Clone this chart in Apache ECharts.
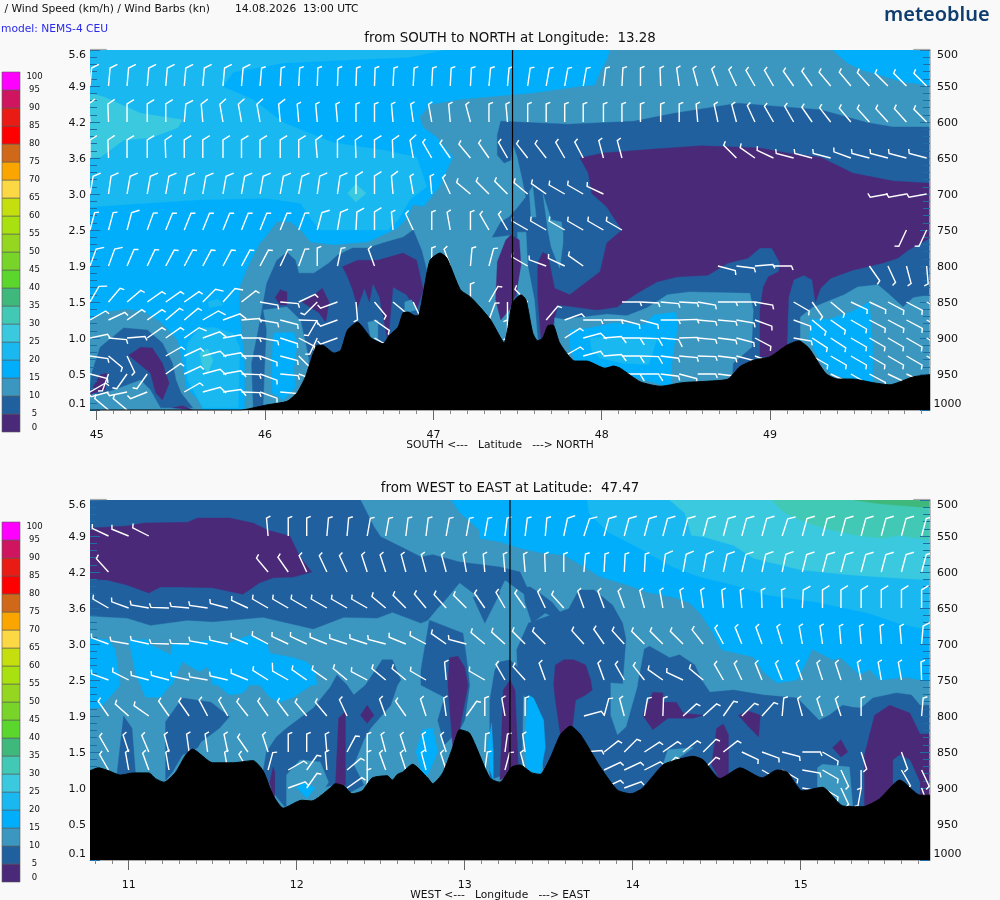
<!DOCTYPE html>
<html><head><meta charset="utf-8">
<style>html,body{margin:0;padding:0;background:#f9f9f9}#c{width:1000px;height:900px}</style>
<script src="https://cdn.jsdelivr.net/npm/echarts@6/dist/echarts.min.js"></script>
</head><body><div id="c"></div>
<script>
const _ = null;
const speedLevels = [0,5,10,15,20,25,30,35,40,45,50,55,60,65,70,75,80,85,90,95];
const speedColors = ['#4a2a78','#20609f','#3b97bf','#00aefb','#1ab8f0','#3bc9e0','#42c9b5','#3fb87c','#5ad62d','#78d428','#95d720','#a8e010','#c4df0d','#fdd845','#fba500','#d0681a','#ff0000','#ea1a14','#d01560','#ff00ff'];
const pressureTicks = [500,550,600,650,700,750,800,850,900,950,1000];
const heightLabels = ['5.6','4.9','4.2','3.6','3.0','2.5','1.9','1.5','1.0','0.5','0.1'];
const northMajorTicks = [45,46,47,48,49];
const southMajorTicks = [11,12,13,14,15];
const northMinorTicks = [45.1,45.2,45.3,45.4,45.5,45.6,45.7,45.8,45.9,46.1,46.2,46.3,46.4,46.5,46.6,46.7,46.8,46.9,47.1,47.2,47.3,47.4,47.5,47.6,47.7,47.8,47.9,48.1,48.2,48.3,48.4,48.5,48.6,48.7,48.8,48.9,49.1,49.2,49.3,49.4,49.5,49.6,49.7,49.8,49.9];
const southMinorTicks = [10.8,10.9,11.1,11.2,11.3,11.4,11.5,11.6,11.7,11.8,11.9,12.1,12.2,12.3,12.4,12.5,12.6,12.7,12.8,12.9,13.1,13.2,13.3,13.4,13.5,13.6,13.7,13.8,13.9,14.1,14.2,14.3,14.4,14.5,14.6,14.7,14.8,14.9,15.1,15.2,15.3,15.4,15.5,15.6,15.7];

// terrain top: flat list of lat/lon, pressure
const northTerrain = [44.96,1000,45.85,1000,45.89,999,46.01,993,46.13,988,46.19,976,46.24,954,46.27,933,46.31,910,46.34,910,46.41,921,46.45,917,46.49,889,46.55,878,46.58,885,46.63,900,46.70,908,46.74,896,46.79,885,46.82,865,46.85,864,46.89,869,46.91,869,46.94,838,46.98,792,47.04,782,47.08,789,47.16,833,47.22,843,47.28,858,47.34,875,47.40,900,47.42,907,47.44,889,47.47,851,47.52,840,47.55,847,47.59,893,47.62,904,47.65,900,47.68,883,47.71,882,47.75,907,47.84,932,47.91,932,48.02,942,48.07,939,48.11,942,48.23,961,48.35,967,48.48,962,48.63,960,48.75,957,48.82,940,48.90,931,49.00,926,49.10,910,49.17,904,49.23,914,49.33,949,49.40,957,49.49,957,49.61,962,49.71,965,49.85,954,49.95,951];
const southTerrain = [10.77,876,10.82,872,10.88,876,10.95,882,11.03,879,11.12,879,11.16,887,11.21,892,11.28,878,11.34,854,11.38,846,11.50,865,11.62,865,11.74,862,11.80,876,11.86,910,11.92,928,12.03,917,12.09,918,12.20,900,12.23,894,12.28,897,12.33,908,12.39,904,12.45,886,12.54,883,12.57,889,12.60,881,12.63,878,12.69,867,12.78,886,12.81,894,12.87,879,12.93,843,12.97,819,13.03,824,13.15,886,13.21,892,13.28,871,13.33,868,13.40,879,13.45,881,13.51,858,13.57,826,13.63,814,13.69,826,13.81,872,13.91,903,13.99,908,14.06,900,14.18,868,14.26,861,14.36,856,14.42,861,14.52,887,14.64,872,14.77,886,14.86,875,14.92,878,15.01,904,15.13,899,15.25,925,15.37,926,15.47,915,15.59,889,15.71,910,15.77,910];

// filled speed bands, painted in order: [lower speed, flat outline of lat, pressure]
const northBands = [
[15,[44.96,500,49.95,500,49.95,1000,44.96,1000]],
[20,[44.96,500,47.06,500,46.86,510,46.49,514,46.11,518,45.81,531,45.75,551,45.93,569,46.11,601,46.41,629,46.70,639,46.90,649,46.92,662,46.96,690,46.86,708,46.79,736,46.73,750,46.33,750,46.29,740,46.21,713,46.01,706,45.61,708,45.22,714,44.96,718]],
[25,[44.96,560,45.04,565,45.26,588,45.51,597,45.48,608,45.32,622,45.16,625,45.08,639,45.02,649,44.96,650]],
[25,[46.49,699,46.54,686,46.60,699,46.54,711]],
[10,[48.05,500,49.95,500,49.95,1000,45.88,1000,45.88,935,45.85,865,45.85,829,45.89,806,45.97,768,45.99,764,46.07,739,46.15,739,46.21,750,46.27,767,46.41,771,46.61,767,46.73,754,46.79,747,46.85,732,46.88,715,46.94,718,47.04,690,47.08,667,47.12,649,47.02,621,46.94,607,46.92,593,46.98,576,47.16,569,47.40,564,47.59,560,47.87,551,47.96,549,47.99,531,48.03,514]],
[15,[49.37,500,49.46,518,49.55,528,49.66,535,49.78,544,49.95,549,49.95,500]],
[5,[47.40,599,47.80,603,48.19,599,48.43,588,48.67,579,48.81,574,49.08,579,49.30,583,49.58,601,49.73,607,49.95,607,49.95,1000,47.49,1000,47.49,847,47.46,757,47.35,760,47.40,739,47.45,732,47.50,719,47.55,704,47.53,681,47.50,649,47.47,629,47.46,653,47.42,657,47.38,646,47.38,618]],
[10,[47.57,697,47.59,689,47.61,732,47.58,732]],
[10,[47.65,699,47.70,736,47.76,739,47.77,754,47.77,768,47.75,803,47.70,774,47.68,750]],
[10,[47.50,753,47.55,753,47.56,799,47.60,847,47.62,903,47.59,903,47.55,875,47.50,847,47.50,799]],
[0,[47.38,794,47.43,764,47.46,757,47.51,764,47.52,799,47.49,840,47.45,861,47.40,875,47.37,847]],
[0,[47.87,650,48.01,643,48.29,638,48.59,633,48.94,636,49.10,643,49.30,649,49.49,671,49.73,682,49.95,685,49.95,761,49.82,778,49.76,789,49.67,796,49.49,806,49.36,817,49.30,831,49.27,850,49.25,819,49.20,813,49.14,819,49.11,843,49.10,910,49.02,926,48.94,926,48.94,861,48.96,829,48.99,815,49.05,808,49.06,796,49.01,775,48.94,775,48.87,789,48.75,796,48.63,813,48.45,815,48.33,822,48.21,838,48.09,857,47.97,861,47.81,856,47.74,854,47.71,882,47.64,903,47.62,843,47.62,796,47.65,781,47.68,785,47.72,831,47.81,840,47.99,808,48.03,768,48.12,750,48.08,736,48.03,718,47.94,699,47.92,671]],
[10,[47.72,872,47.77,874,47.89,871,48.03,867,48.15,869,48.27,858,48.39,840,48.52,836,48.88,838,48.90,861,48.89,913,48.78,935,48.76,1000,47.72,1000]],
[15,[47.81,889,47.93,886,48.07,879,48.25,882,48.31,868,48.44,864,48.45,885,48.42,926,48.41,968,48.19,954,47.97,940,47.84,932,47.81,913]],
[20,[47.99,899,48.33,900,48.28,937,48.13,935,47.99,928,47.94,917,47.93,900]],
[10,[49.18,871,49.25,858,49.44,840,49.52,829,49.64,826,49.70,838,49.79,857,49.85,844,49.95,840,49.95,1000,49.18,1000]],
[15,[49.24,874,49.35,874,49.48,864,49.59,850,49.61,913,49.61,963,49.46,957,49.36,949,49.27,921,49.23,899]],
[10,[44.96,875,45.06,864,45.18,860,45.28,864,45.38,878,45.48,903,45.51,935,45.53,968,45.60,986,45.63,1000,44.96,1000]],
[5,[44.97,949,45.02,913,45.16,886,45.30,889,45.39,907,45.45,935,45.47,958,45.50,976,45.57,997,45.38,997,45.32,972,45.26,958,45.10,972,45.00,979,44.96,972]],
[0,[45.19,924,45.26,913,45.33,914,45.39,935,45.43,963,45.39,986,45.35,976,45.32,949]],
[0,[44.97,972,45.02,951,45.06,949,45.05,972,44.99,976,44.96,979]],
[0,[45.45,997,45.51,994,45.57,1000]],
[20,[45.54,907,45.61,886,45.69,885,45.81,893,45.85,913,45.84,997,45.63,997,45.54,958,45.53,926]],
[25,[45.61,921,45.66,915,45.69,931,45.66,949,45.63,940]],
[20,[45.66,850,45.72,846,45.75,854,45.67,858]],
[5,[45.93,997,45.92,935,45.96,889,46.01,824,46.07,792,46.13,781,46.18,792,46.20,810,46.29,810,46.38,796,46.43,785,46.52,775,46.61,775,46.70,768,46.82,760,46.88,750,46.93,778,46.96,806,46.98,875,46.98,1000,45.93,1000]],
[10,[45.99,861,46.13,857,46.21,875,46.24,907,46.26,931,46.25,954,46.19,976,46.11,997,45.99,997,46.00,935,46.01,889]],
[15,[46.05,893,46.17,892,46.19,907,46.17,944,46.18,968,46.11,986,46.04,976,46.04,935]],
[0,[46.09,833,46.13,836,46.13,854,46.09,854,46.06,844]],
[0,[46.27,844,46.34,831,46.38,850,46.36,878,46.32,865,46.22,850]],
[0,[46.46,801,46.55,792,46.67,792,46.82,782,46.90,792,46.94,833,46.90,861,46.84,840,46.76,829,46.73,906,46.68,843,46.64,824,46.62,850,46.59,831,46.55,857,46.52,833,46.49,815]],
[10,[46.61,878,46.67,875,46.67,903,46.63,903]],
[10,[46.83,850,46.87,847,46.90,861,46.83,865]]
];
const southBands = [
[10,[10.77,500,15.77,500,15.77,1000,10.77,1000]],
[15,[12.92,500,12.97,517,13.09,542,13.09,553,13.21,558,13.33,567,13.47,574,13.59,576,13.69,590,13.81,607,13.97,618,14.09,628,14.26,636,14.34,643,14.40,657,14.48,685,14.53,708,14.72,718,14.78,739,14.86,754,14.98,750,15.07,707,15.19,722,15.24,719,15.35,743,15.41,735,15.47,750,15.63,746,15.77,753,15.77,500]],
[20,[13.73,500,13.74,518,13.85,544,14.04,567,14.24,593,14.40,607,14.60,618,14.80,632,15.10,642,15.40,657,15.59,672,15.77,681,15.77,500]],
[25,[14.22,500,14.31,518,14.35,549,14.42,551,14.60,563,14.72,581,14.84,588,15.00,597,15.30,604,15.55,608,15.77,611,15.77,500]],
[30,[14.83,500,14.90,517,15.04,532,15.19,542,15.35,550,15.49,553,15.59,549,15.77,556,15.77,500]],
[35,[15.32,500,15.46,505,15.77,511,15.77,500]],
[15,[10.77,692,10.88,694,10.92,708,10.94,740,10.95,757,10.83,789,10.77,789]],
[15,[11.00,694,11.11,694,11.13,701,11.25,715,11.26,701,11.50,694,11.59,699,11.72,688,11.82,699,11.84,713,11.98,719,12.06,725,12.11,736,12.12,757,12.09,757,11.98,774,11.90,781,11.84,774,11.78,757,11.72,757,11.68,768,11.60,771,11.53,757,11.25,757,11.19,774,11.10,774,11.07,757,11.04,739]],
[10,[11.32,725,11.42,739,11.47,732,11.50,757,11.26,757]],
[5,[10.77,500,12.38,500,12.46,537,12.50,551,12.62,565,12.74,579,12.81,576,12.97,586,13.21,593,13.33,600,13.37,621,13.38,635,13.24,611,13.21,625,13.17,643,13.05,629,12.97,615,12.87,643,12.84,650,12.78,667,12.74,671,12.57,656,12.48,664,12.28,663,12.10,679,11.80,663,11.50,669,11.35,667,11.13,674,10.99,664,10.77,661]],
[0,[10.77,539,10.91,537,10.99,536,11.09,532,11.35,531,11.41,525,11.60,525,11.74,532,11.83,542,11.96,550,12.02,579,12.09,600,11.98,607,11.86,608,11.78,615,11.68,631,11.50,622,11.31,621,11.19,621,11.12,629,10.99,618,10.87,611,10.77,610]],
[5,[12.79,667,12.99,685,13.01,718,13.03,757,13.00,806,12.97,819,12.88,840,12.84,806,12.88,774,12.74,757,12.74,736]],
[5,[13.05,635,13.12,671,13.21,629]],
[5,[13.35,621,13.36,642,13.40,671,13.48,657,13.53,663,13.57,678,13.62,671,13.52,642,13.44,628,13.39,621]],
[5,[13.62,651,13.68,625,13.77,625,13.88,646,13.94,671,13.96,693,13.94,754,13.98,765,14.03,757,14.07,707,14.10,703,14.22,719,14.28,715,14.37,729,14.41,750,14.46,767,14.60,764,14.78,771,14.98,775,15.11,806,15.17,799,15.25,785,15.31,788,15.36,789,15.43,775,15.57,768,15.66,771,15.71,785,15.77,785,15.77,1000,13.51,1000,13.45,818,13.38,778,13.32,764,13.31,708,13.38,671]],
[10,[13.87,754,13.87,799,13.91,826,13.96,815,14.03,757]],
[5,[13.15,778,13.18,736,13.21,725,13.27,722,13.33,736,13.35,754,13.34,872,13.15,889]],
[0,[13.23,764,13.27,750,13.30,764,13.32,875,13.21,889]],
[0,[13.59,722,13.65,722,13.72,729,13.75,750,13.76,764,13.72,771,13.66,778,13.64,819,13.57,826,13.54,778,13.53,757,13.54,729]],
[15,[13.38,771,13.41,775,13.47,806,13.48,844,13.45,881,13.37,875,13.36,826]],
[0,[12.90,757,12.91,719,12.96,717,13.00,732,13.02,757,12.96,831,12.93,844]],
[5,[10.93,882,10.97,800,11.02,817,11.04,878]],
[5,[11.22,889,11.22,808,11.32,775,11.49,781,11.60,801,11.54,817,11.43,836,11.41,844,11.32,854,11.26,878]],
[5,[11.80,878,11.82,850,11.88,829,11.94,817,12.10,789,12.20,760,12.24,743,12.30,757,12.34,771,12.41,757,12.51,722,12.57,722,12.62,750,12.60,757,12.56,785,12.44,817,12.40,833,12.34,868,12.40,896,12.32,906,12.22,896,12.08,903,12.02,924,11.93,926,11.88,912]],
[10,[11.94,882,12.02,861,12.14,864,12.19,892,12.14,910,12.10,917,11.94,926]],
[15,[12.00,900,12.04,892,12.11,900,12.06,914]],
[0,[12.23,900,12.25,803,12.29,794,12.29,896]],
[0,[12.38,799,12.42,785,12.46,799,12.42,810]],
[0,[11.84,892,11.86,871,11.87,878,11.87,910,11.86,914]],
[15,[12.71,850,12.75,819,12.81,817,12.84,850,12.78,882,12.75,882]],
[15,[13.14,840,13.16,810,13.17,850,13.17,889,13.15,875]],
[0,[14.06,799,14.12,767,14.18,768,14.18,781,14.26,781,14.30,796,14.42,799,14.36,803,14.28,803,14.21,803,14.12,819]],
[0,[14.63,799,14.69,793,14.76,799,14.75,829,14.69,815]],
[0,[14.50,817,14.54,811,14.57,826,14.57,882,14.52,889,14.47,868]],
[0,[15.19,844,15.24,833,15.28,850,15.24,857]],
[0,[15.38,854,15.44,799,15.53,785,15.65,796,15.71,825,15.77,825,15.77,910,15.71,910,15.59,889,15.47,924,15.38,926]],
[5,[15.55,861,15.59,854,15.65,861,15.71,892,15.71,910,15.59,889,15.55,896]],
[10,[14.18,868,14.21,847,14.36,844,14.30,854,14.16,878]],
[10,[15.10,872,15.13,867,15.29,871,15.31,926,15.25,924,15.16,907,15.10,899]]
];

// wind barbs
const barbLevels = [550,600,650,700,750,800,850,875,900,925,950,975,1000];
const northBarbLats = [44.96,45.07,45.18,45.30,45.41,45.52,45.63,45.75,45.86,45.97,46.09,46.20,46.31,46.43,46.54,46.65,46.76,46.88,46.99,47.10,47.22,47.33,47.44,47.56,47.67,47.78,47.89,48.01,48.12,48.23,48.35,48.46,48.57,48.69,48.80,48.91,49.02,49.14,49.25,49.36,49.48,49.59,49.70,49.81,49.93];
const southBarbLons = [10.88,11.00,11.12,11.24,11.36,11.47,11.59,11.71,11.83,11.95,12.06,12.18,12.30,12.42,12.53,12.65,12.77,12.89,13.01,13.12,13.24,13.36,13.48,13.59,13.71,13.83,13.95,14.07,14.18,14.30,14.42,14.54,14.65,14.77,14.89,15.01,15.13,15.24,15.36,15.48,15.60,15.72];
const northBarbDirs = [
[5,5,5,5,5,5,5,5,5,5,3,3,2,2,2,2,3,3,3,3,3,5,5,8,10,10,10,7,3,0,358,352,345,340,335,330,330,325,325,320,320,318,315,315,315],
[355,358,0,0,0,5,355,350,350,350,355,355,355,355,0,0,355,352,350,355,345,0,355,0,0,0,0,0,0,0,0,0,355,348,345,335,330,330,325,322,320,318,318,318,315],
[0,358,0,0,358,0,0,0,0,0,0,0,355,0,358,0,358,350,330,325,320,325,330,322,322,330,332,345,345,_,_,_,_,_,315,305,295,285,285,285,290,285,285,285,285],
[10,8,10,10,10,10,10,10,10,10,10,10,8,8,0,0,355,350,355,335,310,315,315,310,305,300,300,295,_,_,_,_,_,_,_,_,_,_,_,_,_,_,260,260,260],
[15,15,15,20,22,22,22,22,22,22,22,20,15,10,3,0,355,335,0,350,0,330,330,300,300,300,300,300,300,_,_,_,_,_,_,_,_,_,_,_,_,_,_,205,205],
[20,20,23,25,28,28,28,28,28,28,25,20,0,12,_,340,_,_,0,340,5,15,_,300,290,295,305,_,_,_,_,_,_,105,97,85,90,_,_,_,_,145,155,165,175],
[30,40,50,55,55,55,45,42,52,100,95,65,225,250,175,140,130,155,_,_,0,30,180,315,_,_,_,_,90,93,95,93,100,90,90,100,_,120,145,130,115,115,118,118,118],
[60,65,55,55,50,50,60,70,85,100,105,92,210,250,_,125,_,_,_,_,_,20,180,_,40,70,90,90,105,105,90,88,95,95,100,110,_,110,130,125,120,118,118,118,118],
[78,95,85,55,55,55,70,80,90,100,108,118,205,250,_,120,_,_,_,_,_,_,_,_,_,58,75,85,90,92,95,88,95,97,105,118,_,100,123,123,120,120,120,120,120],
[98,130,155,_,60,65,75,80,90,110,105,135,_,_,_,_,_,_,_,_,_,_,_,_,_,60,75,85,90,92,97,95,92,97,105,110,_,_,120,120,120,120,120,120,120],
[105,200,215,215,55,65,75,80,92,110,95,110,_,_,_,_,_,_,_,_,_,_,_,_,_,_,_,_,90,90,97,105,90,97,_,_,_,_,_,115,120,118,115,115,_],
[60,255,258,248,_,60,75,82,92,110,95],
[_,310,310]
];
// barbs read as a long feather (10 kn), by column index, per level
const northLongBarbs = [
[0,1,2,3,4,5,6,7,8],
[0,1,2,3,4,5,6,7,8,9,10],
[0,1,2,3,4,5,6,7,8,9,10,11,12,13,14,15,16,17],
[0,1,2,3,4,5,6,7,8,9,10,11,12,13,14,15,16],
[2,12,13,14,15],
[0,1],
[0,6,7],
[6,7],
[5,6,26,27,28,29,30],
[6,7,27,28,29],
[6,7,28,29],
[6,7],
[]
];
const southBarbDirs = [
[295,292,297,_,_,_,_,_,355,0,0,5,5,10,10,7,7,10,10,10,7,7,5,12,18,15,15,15,15,15,15,15,15,15,18,15,15,15,15,15,15,15],
[318,_,_,_,_,_,_,_,320,325,335,335,335,342,342,345,345,345,350,355,355,355,358,0,5,3,3,3,8,10,10,12,13,12,12,14,15,15,15,15,15,15],
[300,290,280,272,275,278,285,295,300,300,300,300,300,300,310,315,320,318,315,325,330,325,335,318,340,340,340,345,350,350,352,355,355,358,358,3,0,0,0,0,0,0],
[290,280,282,272,272,280,282,292,298,295,295,292,288,288,285,292,298,305,285,310,312,315,315,_,318,325,318,315,315,315,322,332,338,340,343,350,352,355,355,356,355,5],
[290,297,285,285,282,280,283,292,302,300,305,305,310,298,310,310,300,355,_,300,330,318,340,_,_,340,330,322,305,295,310,330,335,338,338,340,342,342,348,350,350,358],
[325,312,305,325,325,332,330,322,325,323,320,320,335,_,340,325,342,352,35,0,350,0,_,_,75,15,345,10,2,48,48,35,45,42,5,345,342,342,0,_,_,5],
[330,342,337,345,352,352,348,325,342,0,0,355,28,0,345,342,348,342,_,3,8,352,_,_,85,52,45,57,55,52,45,52,115,110,105,90,120,_,162,_,160,_],
[330,350,340,350,_,_,350,330,15,60,35,355,50,0,340,342,345,342,_,8,15,345,_,_,_,65,65,63,45,_,45,_,_,120,120,100,120,155,180,_,150,155],
[_,_,_,_,_,_,_,_,_,70,35,_,55,0,_,_,_,_,_,_,_,_,_,_,_,65,70,60,_,_,_,_,_,_,_,100,120,155,190,_,_,160]
];
const southLongBarbs = [
[23,24,25,26,27,28,29,30,31,32,33,34,35,36,37,38,39,40,41],
[28,29,30,31,32,33,34,35,36,37,38,39,40,41],
[35,36,37,38,39,40,41],
[41],
[9],
[],[],[],[]
];

const panelXRange = {north:[44.96,49.95], south:[10.77,15.77]};
const crossLine = {north:47.47, south:13.27};
const northTopStubs = [[44.96,45.06],[49.85,49.95]];
const southTopStubs = [[10.77,10.87],[15.67,15.77]];

function colorOf(speed){return speedColors[speedLevels.indexOf(speed)];}
function pairs(flat){const r=[];for(let i=0;i<flat.length;i+=2)r.push([flat[i],flat[i+1]]);return r;}

function bandSeries(bands,xi,yi,xMin){
  return {type:'custom',xAxisIndex:xi,yAxisIndex:yi,z:1,clip:true,silent:true,
    data:bands.map(()=>[xMin,500]),
    renderItem:(p,api)=>{
      const b=bands[p.dataIndex];
      const pts=pairs(b[1]).map(q=>api.coord(q));
      const c=colorOf(b[0]);
      return {type:'polygon',shape:{points:pts},style:{fill:c,stroke:c,lineWidth:0.4}};
    }};
}
function barbData(xs,dirs,longs){
  const out=[];
  dirs.forEach((row,r)=>{row.forEach((d,c)=>{
    if(d===null||d===undefined)return;
    out.push([xs[c],barbLevels[r],d,longs[r].includes(c)?10:5]);
  });});
  return out;
}
function barbSeries(xs,dirs,longs,xi,yi){
  return {type:'custom',xAxisIndex:xi,yAxisIndex:yi,z:3,clip:true,silent:true,
    data:barbData(xs,dirs,longs),
    renderItem:(p,api)=>{
      const base=api.coord([api.value(0),api.value(1)]);
      const dir=api.value(2)*Math.PI/180, kn=api.value(3);
      const L=18, fl=kn>=10?8.2:4.4, fa=(api.value(2)+(kn>=10?58:68))*Math.PI/180;
      const tip=[base[0]+L*Math.sin(dir),base[1]-L*Math.cos(dir)];
      const end=[tip[0]+fl*Math.sin(fa),tip[1]-fl*Math.cos(fa)];
      return {type:'polyline',shape:{points:[base,tip,end]},style:{stroke:'#ffffff',lineWidth:1.4,fill:null,lineJoin:'miter'}};
    }};
}
function terrainSeries(t,xi,yi){
  return {type:'line',xAxisIndex:xi,yAxisIndex:yi,z:4,silent:true,symbol:'none',smooth:0.2,
    data:pairs(t),lineStyle:{color:'#000',width:1},itemStyle:{color:'#000'},areaStyle:{color:'#000',opacity:1,origin:'end'}};
}
function crossSeries(v,xi,yi){
  return {type:'line',xAxisIndex:xi,yAxisIndex:yi,z:5,silent:true,symbol:'none',
    data:[[v,500],[v,1000]],lineStyle:{color:'#000',width:1.2}};
}
function stubSeries(range,xi,yi){
  return {type:'line',xAxisIndex:xi,yAxisIndex:yi,z:6,silent:true,symbol:'none',clip:false,
    data:[[range[0],499.3],[range[1],499.3]],lineStyle:{color:'#aaa',width:1.2}};
}
function legendSeries(xi,yi){
  return {type:'custom',xAxisIndex:xi,yAxisIndex:yi,z:1,silent:true,
    data:speedLevels.map((s,i)=>[0,s,i]),
    renderItem:(p,api)=>{
      const s=api.value(1);
      const a=api.coord([0,s+5]), b=api.coord([1,s]);
      return {type:'rect',shape:{x:a[0],y:a[1],width:b[0]-a[0],height:b[1]-a[1]},
        style:{fill:speedColors[api.value(2)],stroke:'rgba(90,90,90,0.75)',lineWidth:0.8}};
    }};
}
const labelFont={fontFamily:'DejaVu Sans',color:'#111'};
// inner labels sit slightly below their tick; the end labels stay flush
const yLabelRich={
  m:{fontSize:11,fontFamily:'DejaVu Sans',color:'#111',padding:[3,0,0,0]},
  e:{fontSize:11,fontFamily:'DejaVu Sans',color:'#111'}
};
function yToken(v,s){return (v===500||v===1000)?`{e|${s}}`:`{m|${s}}`;}
function xAxes(gi,range,major,minor){
  return [
    {type:'value',gridIndex:gi,min:range[0],max:range[1],position:'bottom',z:2,splitLine:{show:false},
     axisLine:{show:true,lineStyle:{color:'#aaa',width:1}},
     axisTick:{show:true,customValues:major,length:10,lineStyle:{color:'#666',width:1}},
     axisLabel:{show:true,customValues:major,fontSize:11,margin:20,formatter:v=>String(v),...labelFont,hideOverlap:false,showMinLabel:true,showMaxLabel:true}},
    {type:'value',gridIndex:gi,min:range[0],max:range[1],position:'bottom',z:2,splitLine:{show:false},
     axisLine:{show:false},axisLabel:{show:false},
     axisTick:{show:true,customValues:minor,length:4,lineStyle:{color:'#888',width:1}}}
  ];
}
function yAxes(gi){
  const t={length:10,inside:true,show:true,lineStyle:{color:'#1e6ea3',width:1}};
  const m={show:true,splitNumber:5,length:7,lineStyle:{color:'#1e6ea3',width:1}};
  return [
    {type:'value',gridIndex:gi,inverse:true,min:500,max:1000,interval:50,position:'left',z:2,splitLine:{show:false},
     axisLine:{show:false},axisTick:t,minorTick:m,minorSplitLine:{show:false},
     axisLabel:{margin:4,align:'right',rich:yLabelRich,formatter:v=>yToken(v,heightLabels[pressureTicks.indexOf(v)]||''),verticalAlignMinLabel:'top',verticalAlignMaxLabel:'bottom'}},
    {type:'value',gridIndex:gi,inverse:true,min:500,max:1000,interval:50,position:'right',z:2,splitLine:{show:false},
     axisLine:{show:true,onZero:false,lineStyle:{color:'#aaa',width:1.5}},axisTick:t,minorTick:m,
     axisLabel:{margin:17.5,align:'center',rich:yLabelRich,formatter:v=>yToken(v,String(v)),verticalAlignMinLabel:'top',verticalAlignMaxLabel:'bottom'}}
  ];
}
function legendY(gi){
  return {type:'value',gridIndex:gi,min:0,max:100,interval:5,position:'right',splitLine:{show:false},
    axisLine:{show:false},axisTick:{show:false},
    axisLabel:{fontSize:8.5,margin:14.5,align:'center',formatter:v=>String(v),...labelFont,showMinLabel:true,showMaxLabel:true,verticalAlignMinLabel:'bottom',verticalAlignMaxLabel:'top'}};
}
function legendX(gi){return {type:'value',gridIndex:gi,min:0,max:1,show:false};}
function txt(text,left,top,size,color,extra){
  return Object.assign({text:text,left:left,top:top,padding:0,textStyle:{fontSize:size,color:color,fontWeight:'normal',fontFamily:'DejaVu Sans',lineHeight:size+2}},extra||{});
}
const chart=echarts.init(document.getElementById('c'),null,{renderer:'canvas',width:1000,height:900});
chart.setOption({
  animation:false,backgroundColor:'#f9f9f9',
  title:[
    txt(' / Wind Speed (km/h) / Wind Barbs (kn)',1,3,10.7,'#111'),
    txt('14.08.2026  13:00 UTC',235,3,10.7,'#111'),
    txt('model: NEMS-4 CEU',1,23,10.7,'#2a2aee'),
    {text:'meteoblue',left:884,top:5,padding:0,textStyle:{fontSize:20,fontFamily:'Noto Sans',fontWeight:600,color:'#0f3d6e'}},
    txt('from SOUTH to NORTH at Longitude:  13.28',510,31,13.4,'#111',{textAlign:'center'}),
    txt('from WEST to EAST at Latitude:  47.47',510,481,13.4,'#111',{textAlign:'center'}),
    txt('SOUTH <---   Latitude   ---> NORTH',500,439,10.7,'#111',{textAlign:'center'}),
    txt('WEST <---   Longitude   ---> EAST',500,889,10.7,'#111',{textAlign:'center'})
  ],
  grid:[
    {left:90,top:50,width:840,height:360},
    {left:90,top:500,width:840,height:360},
    {left:2,top:72,width:18,height:360},
    {left:2,top:522,width:18,height:360}
  ],
  xAxis:[
    ...xAxes(0,panelXRange.north,northMajorTicks,northMinorTicks),
    ...xAxes(1,panelXRange.south,southMajorTicks,southMinorTicks),
    legendX(2),legendX(3)
  ],
  yAxis:[...yAxes(0),...yAxes(1),legendY(2),legendY(3)],
  series:[
    bandSeries(northBands,0,0,panelXRange.north[0]),
    barbSeries(northBarbLats,northBarbDirs,northLongBarbs,0,0),
    terrainSeries(northTerrain,0,0),
    crossSeries(crossLine.north,0,0),
    stubSeries(northTopStubs[0],0,0),
    stubSeries(northTopStubs[1],0,0),
    bandSeries(southBands,2,2,panelXRange.south[0]),
    barbSeries(southBarbLons,southBarbDirs,southLongBarbs,2,2),
    terrainSeries(southTerrain,2,2),
    crossSeries(crossLine.south,2,2),
    stubSeries(southTopStubs[0],2,2),
    stubSeries(southTopStubs[1],2,2),
    legendSeries(4,4),
    legendSeries(5,5)
  ]
});
</script></body></html>
